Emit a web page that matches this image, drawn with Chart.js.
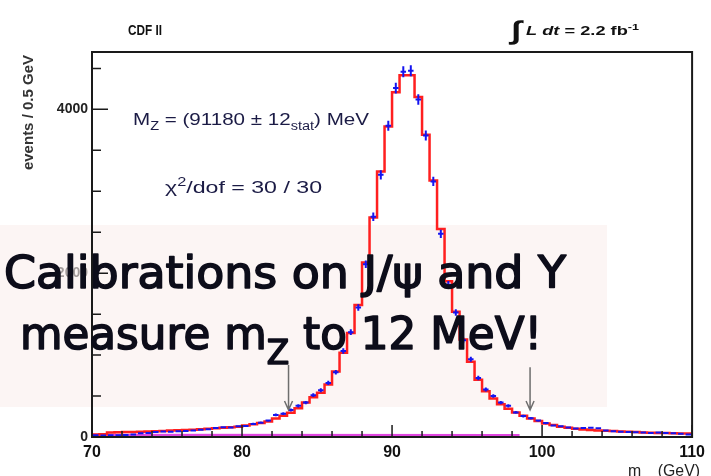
<!DOCTYPE html>
<html>
<head>
<meta charset="utf-8">
<script src="https://cdn.jsdelivr.net/npm/chart.js@4.4.1/dist/chart.umd.min.js"></script>
<style>
  html, body { margin: 0; padding: 0; background: #fff; }
  canvas { display: block; }
</style>
</head>
<body>
<canvas id="mz-chart" width="711" height="476"></canvas>
<script>
// lower edge of each 0.5 GeV bin
const binLow = [
  70.0, 70.5, 71.0, 71.5, 72.0, 72.5, 73.0, 73.5, 74.0, 74.5,
  75.0, 75.5, 76.0, 76.5, 77.0, 77.5, 78.0, 78.5, 79.0, 79.5,
  80.0, 80.5, 81.0, 81.5, 82.0, 82.5, 83.0, 83.5, 84.0, 84.5,
  85.0, 85.5, 86.0, 86.5, 87.0, 87.5, 88.0, 88.5, 89.0, 89.5,
  90.0, 90.5, 91.0, 91.5, 92.0, 92.5, 93.0, 93.5, 94.0, 94.5,
  95.0, 95.5, 96.0, 96.5, 97.0, 97.5, 98.0, 98.5, 99.0, 99.5,
  100.0, 100.5, 101.0, 101.5, 102.0, 102.5, 103.0, 103.5, 104.0, 104.5,
  105.0, 105.5, 106.0, 106.5, 107.0, 107.5, 108.0, 108.5, 109.0, 109.5
];
const binWidth = 0.5;

// simulation template (red histogram)
const fitHist = [
  30, 35, 55, 58, 60, 62, 64, 66, 70, 74,
  78, 82, 86, 90, 96, 102, 108, 114, 120, 126,
  140, 155, 170, 190, 225, 260, 295, 350, 420, 485,
  540, 640, 800, 1030, 1270, 1610, 2130, 2680, 3240, 3790,
  4210, 4415, 4415, 4150, 3690, 3130, 2540, 1900, 1530, 1190,
  920, 700, 560, 470, 400, 345, 300, 260, 225, 195,
  165, 145, 125, 112, 100, 92, 86, 80, 76, 72,
  68, 64, 60, 56, 52, 50, 48, 46, 44, 42
];

// data (blue crosses)
const dataHist = [
  20, 18, 22, 20, 25, 30, 45, 50, 62, 68,
  65, 70, 72, 80, 88, 95, 110, 118, 115, 130,
  135, 160, 175, 200, 270, 285, 330, 380, 420, 510,
  570, 660, 790, 1050, 1280, 1580, 2110, 2690, 3200, 3800,
  4260, 4460, 4470, 4120, 3680, 3120, 2480, 1860, 1520, 1180,
  950, 720, 580, 500, 420, 380, 300, 255, 230, 200,
  170, 140, 130, 115, 105, 110, 112, 108, 80, 70,
  65, 62, 58, 55, 50, 55, 48, 45, 40, 30
];

// background (magenta)
const bgX = [70, 98.5];
const bgY = [20, 18];

// fit window arrows
const arrowX = [83.1, 99.2];
const arrowTop = [880, 850];
const arrowTip = [330, 330];

const xTicks = [70, 80, 90, 100, 110];
const yTicks = [0, 2000, 4000];

const LS = '"Liberation Sans", Arial, sans-serif';
const NOTE = '"DejaVu Sans", sans-serif';

// steps: value of bin i from its lower edge, closing point at the last upper edge
const fitSteps = binLow.map((e, i) => ({ x: e, y: fitHist[i] }));
fitSteps.push({ x: binLow[binLow.length - 1] + binWidth, y: fitHist[fitHist.length - 1] });

const seg = (t, opt = {}) => Object.assign({ t }, opt);

// text with sub/superscripts, optionally squeezed to a given width
function drawRich(ctx, parts, x, base, size, fam, fitWidth, color, weight = '', strokeW = 0) {
    const fontFor = p => `${p.italic ? 'italic ' : ''}${weight} ${p.sub || p.sup ? Math.round(size * (p.subScale || 0.7)) : (p.size || size)}px ${fam}`;
    let w = 0;
    parts.forEach(p => { ctx.font = fontFor(p); p.w = ctx.measureText(p.t).width; w += p.w; });
    const k = fitWidth ? fitWidth / w : 1;
    ctx.save();
    ctx.translate(x, base);
    ctx.scale(k, 1);
    ctx.fillStyle = color;
    ctx.strokeStyle = color;
    ctx.lineWidth = strokeW;
    ctx.lineJoin = 'round';
    ctx.textBaseline = 'alphabetic';
    ctx.textAlign = 'left';
    let cx = 0;
    parts.forEach(p => {
        ctx.font = fontFor(p);
        const dy = p.sub ? size * (p.subDrop || 0.3) : p.sup ? -size * 0.4 : 0;
        ctx.fillText(p.t, cx, dy + (p.dy || 0));
        if (strokeW) ctx.strokeText(p.t, cx, dy + (p.dy || 0));
        cx += p.w;
    });
    ctx.restore();
}

const mzDecor = {
    id: 'mzDecor',
    beforeDatasetsDraw(chart) {
        const ctx = chart.ctx;
        ctx.save();
        // translucent note box, sits over the axis labels
        ctx.fillStyle = 'rgba(250,239,237,0.6)';
        ctx.fillRect(0, 225, 607, 182);
        ctx.restore();
    },
    afterDatasetsDraw(chart) {
        const { ctx, chartArea: a, scales: { x, y } } = chart;
        ctx.save();

        // data points with error bars
        ctx.beginPath();
        ctx.rect(a.left, a.top, a.right - a.left, a.bottom - a.top);
        ctx.clip();
        ctx.strokeStyle = '#1414f0';
        ctx.lineWidth = 2;
        dataHist.forEach((v, i) => {
            const x0 = x.getPixelForValue(binLow[i]) + 1;
            const x1 = x.getPixelForValue(binLow[i] + binWidth) - 1;
            const cx = x.getPixelForValue(binLow[i] + binWidth / 2);
            const cy = y.getPixelForValue(v);
            const err = Math.sqrt(v);
            ctx.beginPath();
            ctx.moveTo(x0, cy); ctx.lineTo(x1, cy);
            ctx.moveTo(cx, y.getPixelForValue(v + err)); ctx.lineTo(cx, y.getPixelForValue(Math.max(v - err, 0)));
            ctx.stroke();
        });
        ctx.restore();

        ctx.save();
        // frame
        ctx.strokeStyle = '#1a1a1a';
        ctx.lineWidth = 2;
        ctx.strokeRect(a.left, a.top, a.right - a.left, a.bottom - a.top);

        // inward ticks
        ctx.lineWidth = 1.5;
        ctx.beginPath();
        for (let v = 70; v <= 110; v += 2) {
            const px = x.getPixelForValue(v);
            const len = (v % 10 === 0) ? 12 : 6;
            ctx.moveTo(px, a.bottom); ctx.lineTo(px, a.bottom - len);
        }
        for (let v = 0; v <= 4500; v += 500) {
            const py = y.getPixelForValue(v);
            const len = (v % 2000 === 0) ? 16 : 9;
            ctx.moveTo(a.left, py); ctx.lineTo(a.left + len, py);
        }
        ctx.stroke();

        // fit window arrows
        ctx.strokeStyle = '#6e6e6e';
        ctx.lineWidth = 1.5;
        arrowX.forEach((m, i) => {
            const px = x.getPixelForValue(m);
            const top = y.getPixelForValue(arrowTop[i]);
            const tip = y.getPixelForValue(arrowTip[i]);
            ctx.beginPath();
            ctx.moveTo(px, top); ctx.lineTo(px, tip);
            ctx.moveTo(px - 4, tip - 9); ctx.lineTo(px, tip); ctx.lineTo(px + 4, tip - 9);
            ctx.stroke();
        });

        // fit results
        drawRich(ctx, [seg('M'), seg('Z', { sub: true }), seg(' = (91180 \u00b1 12'), seg('stat', { sub: true }), seg(') MeV')],
            133, 125, 17, LS, 236, '#1b1b45');
        drawRich(ctx, [seg('\u03c7'), seg('2', { sup: true }), seg('/dof = 30 / 30')],
            165, 193, 17, LS, 157, '#1b1b45');

        // header
        drawRich(ctx, [seg('CDF II')], 128, 35, 14, LS, 34, '#111', 'bold');
        drawRich(ctx, [seg('\u222b', { size: 26, dy: 4 }), seg(' L dt', { italic: true }), seg(' = 2.2 fb'), seg('-1', { sup: true })],
            511, 35, 13, LS, 128, '#111', 'bold');

        // axis titles
        ctx.save();
        ctx.translate(33, 55);
        ctx.rotate(-Math.PI / 2);
        ctx.fillStyle = '#333';
        ctx.font = `bold 15px ${LS}`;
        ctx.textAlign = 'right';
        ctx.textBaseline = 'alphabetic';
        ctx.fillText('events / 0.5 GeV', 0, 0);
        ctx.restore();
        drawRich(ctx, [seg('m'), seg('ee', { sub: true, subDrop: 0.45 }), seg(' (GeV)')], 628, 476, 16, LS, 72, '#222');

        // the note
        drawRich(ctx, [seg('Calibrations on J/\u03c8 and \u03a5')], 4, 288, 44, NOTE, 562, '#0d0d1a', '', 1.6);
        drawRich(ctx, [seg('measure m'), seg('Z', { sub: true, subDrop: 0.35, subScale: 0.75 }), seg(' to 12 MeV!')],
            20, 349, 44, NOTE, 522, '#0d0d1a', '', 1.6);

        ctx.restore();
    }
};

const ctx = document.getElementById('mz-chart').getContext('2d');
const mzChart = new Chart(ctx, {
    type: 'line',
    data: {
        datasets: [
            {
                label: 'background',
                data: bgX.map((v, i) => ({ x: v, y: bgY[i] })),
                borderColor: '#e046e0',
                borderWidth: 3,
                pointRadius: 0,
                order: 2
            },
            {
                label: 'simulation',
                data: fitSteps,
                stepped: 'before',
                borderColor: '#ff1f1f',
                borderWidth: 2.5,
                pointRadius: 0,
                order: 1
            }
        ]
    },
    options: {
        responsive: false,
        animation: false,
        events: [],
        layout: { padding: { top: 52, right: 13, left: 0, bottom: 0 } },
        plugins: {
            legend: { display: false },
            tooltip: { enabled: false }
        },
        scales: {
            x: {
                type: 'linear',
                min: 70, max: 110,
                afterBuildTicks: s => { s.ticks = xTicks.map(v => ({ value: v })); },
                afterFit: s => { s.height = 39; },
                grid: { display: false, drawTicks: false },
                border: { display: false },
                ticks: {
                    autoSkip: false,
                    maxRotation: 0,
                    padding: 6,
                    color: '#111',
                    callback: v => String(v),
                    font: { family: LS, size: 16, weight: 'bold' }
                }
            },
            y: {
                min: 0, max: 4700,
                afterBuildTicks: s => { s.ticks = yTicks.map(v => ({ value: v })); },
                afterFit: s => { s.width = 92; },
                grid: { display: false, drawTicks: false },
                border: { display: false },
                ticks: {
                    padding: 4,
                    color: '#222',
                    callback: v => String(v),
                    font: { family: LS, size: 14, weight: 'bold' }
                }
            }
        }
    },
    plugins: [mzDecor]
});
</script>
</body>
</html>
